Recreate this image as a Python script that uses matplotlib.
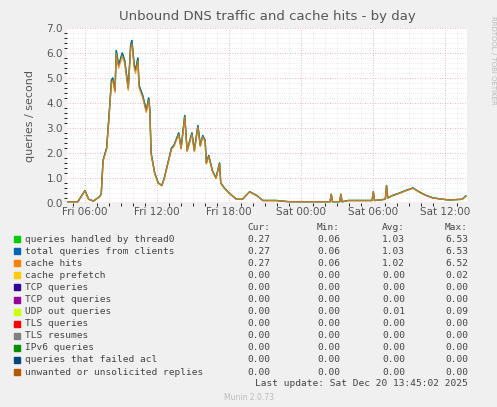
import numpy as np
import matplotlib.pyplot as plt
from matplotlib.ticker import MultipleLocator

# hours since Fri 00:00, queries/second
hours = [4.5, 5.4, 6.0, 6.3, 6.7, 7.2, 7.35, 7.5, 7.8, 8.0, 8.2, 8.3, 8.5, 8.6, 8.8,
         9.1, 9.3, 9.6, 9.8, 9.9, 10.1, 10.2, 10.4, 10.5, 10.8, 11.1, 11.3, 11.4,
         11.5, 11.8, 12.1, 12.4, 12.6, 12.9, 13.2, 13.4, 13.8, 14.0, 14.3, 14.5,
         14.9, 15.1, 15.4, 15.6, 15.8, 16.0, 16.1, 16.3, 16.6, 16.9, 17.2, 17.3,
         17.6, 18.0, 18.6, 19.1, 19.7, 20.3, 20.8, 21.9, 23.0, 26.4, 26.5, 26.6,
         27.2, 27.3, 27.4, 27.9, 29.9, 30.0, 30.1, 31.0, 31.1, 31.2, 31.6, 32.2,
         32.7, 33.3, 33.8, 34.4, 35.0, 36.3, 37.4, 37.7]
total = [0.05, 0.05, 0.5, 0.15, 0.08, 0.25, 0.35, 1.7, 2.2, 3.5, 4.9, 5.0, 4.5, 6.1, 5.5,
         6.0, 5.7, 4.6, 6.3, 6.5, 5.5, 5.3, 5.8, 4.7, 4.3, 3.7, 4.2, 3.7,
         2.0, 1.2, 0.8, 0.7, 1.0, 1.6, 2.2, 2.3, 2.8, 2.2, 3.5, 2.1,
         2.8, 2.1, 3.1, 2.3, 2.7, 2.5, 1.6, 1.9, 1.3, 1.0, 1.6, 0.8,
         0.6, 0.4, 0.15, 0.15, 0.45, 0.3, 0.1, 0.1, 0.05, 0.05, 0.35, 0.05,
         0.05, 0.35, 0.05, 0.1, 0.1, 0.45, 0.1, 0.15, 0.7, 0.2, 0.3, 0.4,
         0.5, 0.6, 0.45, 0.3, 0.2, 0.12, 0.15, 0.28]

labels = ["queries handled by thread0", "total queries from clients", "cache hits",
          "cache prefetch", "TCP queries", "TCP out queries", "UDP out queries",
          "TLS queries", "TLS resumes", "IPv6 queries", "queries that failed acl",
          "unwanted or unsolicited replies"]
colors = ["#00cc00", "#0066b3", "#ff8000", "#ffcc00", "#330099", "#990099", "#ccff00",
          "#ff0000", "#808080", "#008f00", "#00487d", "#b35a00"]
cur = [0.27, 0.27, 0.27, 0, 0, 0, 0, 0, 0, 0, 0, 0]
mins = [0.06, 0.06, 0.06, 0, 0, 0, 0, 0, 0, 0, 0, 0]
avgs = [1.03, 1.03, 1.02, 0, 0, 0, 0.01, 0, 0, 0, 0, 0]
maxs = [6.53, 6.53, 6.52, 0.02, 0, 0, 0.09, 0, 0, 0, 0, 0]

fig = plt.figure(figsize=(4.97, 4.07), dpi=100, facecolor="#f0f0f0")
ax = fig.add_axes([67 / 497, 1 - 203 / 407, 400 / 497, 175 / 407])
ax.set_facecolor("white")

ax.plot(hours, total, color="#00cc00", lw=1)
ax.plot(hours, total, color="#0066b3", lw=1)
ax.plot(hours, [v * 0.98 for v in total], color="#ff8000", lw=1, alpha=0.8)

ax.set_xlim(4.5, 37.8)
ax.set_ylim(0, 7)
ax.xaxis.set_minor_locator(MultipleLocator(1))
ax.yaxis.set_minor_locator(MultipleLocator(0.2))
ax.set_xticks([6, 12, 18, 24, 30, 36])
ax.set_xticklabels(["Fri 06:00", "Fri 12:00", "Fri 18:00", "Sat 00:00", "Sat 06:00", "Sat 12:00"])
ax.set_yticks(range(8))
ax.set_yticklabels(["%.1f" % v for v in range(8)])
ax.grid(which="major", color="#f0a0a0", ls=(0, (1, 2)), lw=0.6)
ax.grid(which="minor", color="#dddddd", ls=(0, (1, 2)), lw=0.5)
ax.tick_params(labelsize=7.5, colors="#555555", length=0, pad=3)
for s in ax.spines.values():
    s.set_visible(False)
ax.axhline(0, color="#e0a0a0", lw=1)
ax.set_ylabel("queries / second", fontsize=8, color="#555555", labelpad=8)
ax.set_title("Unbound DNS traffic and cache hits - by day", fontsize=9.5, color="#555555", pad=6)
fig.text(0.985, 0.96, "RRDTOOL / TOBI OETIKER", rotation=270, fontsize=5, color="#bbbbbb", va="top")

mono = "DejaVu Sans Mono"
cols = [270, 340, 405, 468]
hy = 1 - 228 / 407
for txt, x in zip(["Cur:", "Min:", "Avg:", "Max:"], cols):
    fig.text(x / 497, hy, txt, family=mono, fontsize=6.8, color="#444444", ha="right", va="center")
for i, lab in enumerate(labels):
    y = 1 - (239 + i * 12.1) / 407
    fig.patches.append(plt.Rectangle((14 / 497, y - 3 / 407), 6 / 497, 6 / 407,
                                     transform=fig.transFigure, color=colors[i]))
    fig.text(25 / 497, y, lab, family=mono, fontsize=6.8, color="#444444", va="center")
    for v, x in zip([cur[i], mins[i], avgs[i], maxs[i]], cols):
        fig.text(x / 497, y, "%.2f" % v, family=mono, fontsize=6.8, color="#444444",
                 ha="right", va="center")
fig.text(468 / 497, 1 - 383 / 407, "Last update: Sat Dec 20 13:45:02 2025", family=mono,
         fontsize=6.8, color="#444444", ha="right", va="center")
fig.text(0.5, 1 - 397 / 407, "Munin 2.0.73", fontsize=5.5, color="#bbbbbb", ha="center", va="center")

fig.savefig("out.png", dpi=100, facecolor=fig.get_facecolor())
